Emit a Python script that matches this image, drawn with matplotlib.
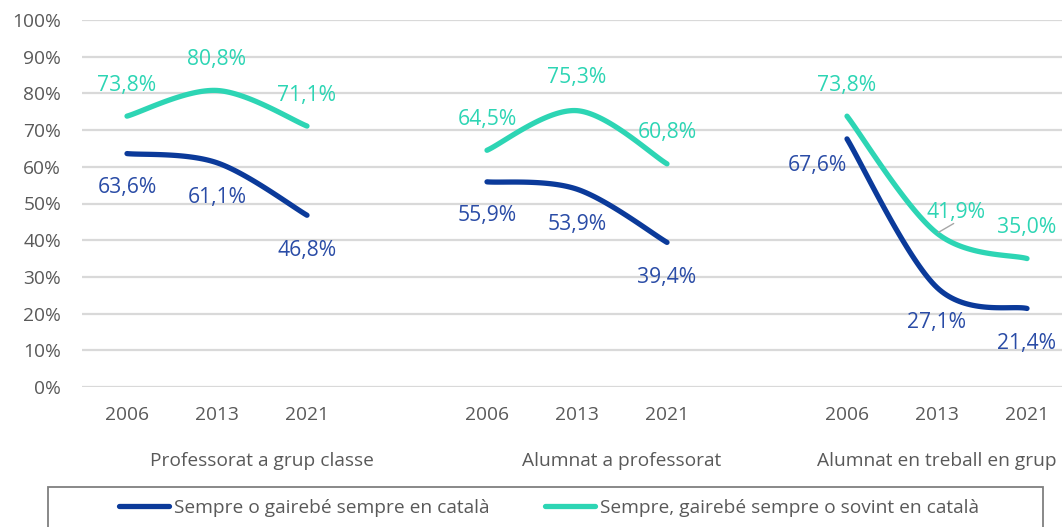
import matplotlib
matplotlib.use("Agg")
import matplotlib.pyplot as plt
import numpy as np
from matplotlib.lines import Line2D
from matplotlib.patches import Rectangle
import matplotlib.transforms as mtransforms

plt.rcParams['font.family'] = ['Open Sans', 'DejaVu Sans']

years = ['2006', '2013', '2021']
groups = ['Professorat a grup classe', 'Alumnat a professorat', 'Alumnat en treball en grup']
blue_vals = [[63.6, 61.1, 46.8], [55.9, 53.9, 39.4], [67.6, 27.1, 21.4]]
teal_vals = [[73.8, 80.8, 71.1], [64.5, 75.3, 60.8], [73.8, 41.9, 35.0]]
series_names = ['Sempre o gairebé sempre en català',
                'Sempre, gairebé sempre o sovint en català']

BLUE = '#0B3A9A'
BLUE_TXT = '#2A4CA6'
TEAL = '#2DD5B4'
GREY = '#595959'
GRID = '#D9D9D9'


def smooth(xs, ys, n=40):
    # bezier smoothing similar to Excel's "smoothed line"
    pts = np.column_stack([xs, ys]).astype(float)
    P = np.vstack([pts[0], pts, pts[-1]])
    out = []
    t = np.linspace(0, 1, n)[:, None]
    for i in range(1, len(P) - 2):
        p0, p1, p2, p3 = P[i - 1], P[i], P[i + 1], P[i + 2]
        c1 = p1 + (p2 - p0) / 6
        c2 = p2 - (p3 - p1) / 6
        seg = (1 - t)**3 * p1 + 3 * (1 - t)**2 * t * c1 + 3 * (1 - t) * t**2 * c2 + t**3 * p2
        out.append(seg)
    s = np.vstack(out)
    return s[:, 0], s[:, 1]


W, H = 1062, 527
fig = plt.figure(figsize=(W / 100, H / 100), dpi=100)
ax = fig.add_axes([82 / W, 1 - 387 / H, 990 / W, (387 - 20) / H])

FS = 13.8
ax.set_ylim(0, 100)
ax.set_xlim(-0.5, 10.5)
ax.set_yticks(np.arange(0, 101, 10))
ax.set_yticklabels(['%d%%' % v for v in range(0, 101, 10)])
ax.yaxis.grid(True, color=GRID, lw=1.6)
ax.set_axisbelow(True)
for s in ax.spines.values():
    s.set_visible(False)
ax.tick_params(length=0)
ax.tick_params(axis='y', pad=15, labelsize=FS, labelcolor=GREY)
ax.tick_params(axis='x', pad=14, labelsize=FS, labelcolor=GREY)

xpos = []
xlab = []
# label offsets in pixels (dx, dy)
teal_off = [[(0, 31), (0, 31), (0, 31)], [(0, 31), (0, 33), (0, 31)], [(0, 31), (19, 21), (0, 31)]]
blue_off = [[(0, -34), (0, -35), (0, -35)], [(0, -34), (0, -35), (0, -35)], [(-30, -27), (0, -35), (0, -35)]]

for g in range(len(groups)):
    x = [g * 4 + i for i in range(len(years))]
    xpos += x
    xlab += years
    for vals, col, tcol, offs in [(blue_vals[g], BLUE, BLUE_TXT, blue_off[g]),
                                  (teal_vals[g], TEAL, TEAL, teal_off[g])]:
        sx, sy = smooth(x, vals)
        ax.plot(sx, sy, color=col, lw=3.8, solid_capstyle='round')
        for xi, v, (dx, dy) in zip(x, vals, offs):
            ax.annotate(('%.1f%%' % v).replace('.', ','), (xi, v),
                        xytext=(dx * 0.72, dy * 0.72), textcoords='offset points',
                        ha='center', va='center', color=tcol, fontsize=15.2)

# leader line for 41,9%
ax.annotate('', (8 + 1, teal_vals[2][1]), xytext=(12, 7), textcoords='offset points',
            arrowprops=dict(arrowstyle='-', color='#A6A6A6', lw=1, shrinkA=0, shrinkB=1))

ax.set_xticks(xpos)
ax.set_xticklabels(xlab)

trans = mtransforms.blended_transform_factory(ax.transData, fig.transFigure)
for g, name in enumerate(groups):
    start = g * 4
    end = min(g * 4 + 3, 10)
    ax.text((start + end) / 2, 1 - 461 / H, name, transform=trans, ha='center', va='center',
            fontsize=FS, color=GREY)

# legend box
fig.patches.append(Rectangle((48 / W, 1 - 531 / H), (1043 - 48) / W, (531 - 487) / H,
                             transform=fig.transFigure, fill=False, edgecolor='#7F7F7F', lw=1.3))
handles = [Line2D([], [], color=BLUE, lw=3.8, solid_capstyle='round'),
           Line2D([], [], color=TEAL, lw=3.8, solid_capstyle='round')]
fig.legend(handles, series_names, loc='center', bbox_to_anchor=(549 / W, 1 - 508 / H),
           ncol=2, frameon=False, fontsize=FS, handlelength=2.6, handletextpad=0.25,
           columnspacing=2.9, labelcolor=GREY)

fig.savefig('out.png', dpi=100)
